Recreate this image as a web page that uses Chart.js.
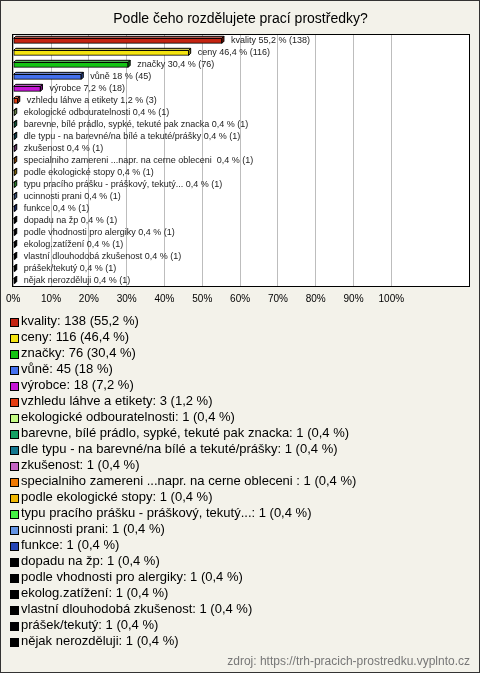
<!DOCTYPE html>
<html>
<head>
<meta charset="utf-8">
<script src="https://cdn.jsdelivr.net/npm/chart.js@4/dist/chart.umd.min.js"></script>
<style>
html,body{margin:0;padding:0;background:#f3f2ea;}
#wrap{position:absolute;left:0;top:0;width:480px;height:673px;}
</style>
</head>
<body>
<div id="wrap"><canvas id="c" width="480" height="673"></canvas></div>
<script>
const title = "Podle čeho rozdělujete prací prostředky?";
const categories = [
  "kvality", "ceny", "značky", "vůně", "výrobce", "vzhledu láhve a etikety",
  "ekologické odbouratelnosti", "barevne, bílé prádlo, sypké, tekuté pak znacka",
  "dle typu - na barevné/na bílé a tekuté/prášky", "zkušenost",
  "specialniho zamereni ...napr. na cerne obleceni ", "podle ekologické stopy",
  "typu pracího prášku - práškový, tekutý...", "ucinnosti prani", "funkce",
  "dopadu na žp", "podle vhodnosti pro alergiky", "ekolog.zatížení",
  "vlastní dlouhodobá zkušenost", "prášek/tekutý", "nějak nerozděluji"
];
const counts   = [138, 116, 76, 45, 18, 3, 1, 1, 1, 1, 1, 1, 1, 1, 1, 1, 1, 1, 1, 1, 1];
const percents = [55.2, 46.4, 30.4, 18, 7.2, 1.2, 0.4, 0.4, 0.4, 0.4, 0.4, 0.4, 0.4, 0.4, 0.4, 0.4, 0.4, 0.4, 0.4, 0.4, 0.4];
const colors = [
  "#c42412", "#f4e411", "#14c414", "#4470ee", "#c414d4", "#e43e12",
  "#c4fc84", "#14a064", "#147890", "#c464c4", "#f07a04", "#f0b804",
  "#44f044", "#6494e4", "#2444b4", "#000000", "#000000", "#000000",
  "#000000", "#000000", "#000000"
];
const tickValues = [0, 10, 20, 30, 40, 50, 60, 70, 80, 90, 100];
const source = "zdroj: https://trh-pracich-prostredku.vyplnto.cz";

const FONT = "'Liberation Sans', Arial, sans-serif";
function fmt(v){ return String(v).replace('.', ','); }

function shade(hex, f){
  const n = parseInt(hex.slice(1), 16);
  let r = (n >> 16) & 255, g = (n >> 8) & 255, b = n & 255;
  if (f > 0){ r = r + (255 - r) * f; g = g + (255 - g) * f; b = b + (255 - b) * f; }
  else { r = r * (1 + f); g = g * (1 + f); b = b * (1 + f); }
  return 'rgb(' + Math.round(r) + ',' + Math.round(g) + ',' + Math.round(b) + ')';
}

const bgPlugin = {
  id: 'bg',
  beforeDraw(chart){
    const ctx = chart.ctx, a = chart.chartArea;
    ctx.save();
    ctx.fillStyle = '#f3f2ea';
    ctx.fillRect(0, 0, chart.width, chart.height);
    ctx.fillStyle = '#ffffff';
    ctx.fillRect(a.left - 1, a.top, a.right - a.left + 1, a.bottom - a.top);
    ctx.restore();
  }
};

const bar3d = {
  id: 'bar3d',
  afterDatasetsDraw(chart){
    const ctx = chart.ctx, a = chart.chartArea;
    const meta = chart.getDatasetMeta(0);
    const d = 2;
    ctx.save();
    meta.data.forEach((el, i) => {
      const p = el.getProps(['x', 'y', 'base', 'height'], true);
      const top = p.y - p.height / 2, bot = p.y + p.height / 2;
      const c = colors[i];
      ctx.lineWidth = 1;
      ctx.strokeStyle = '#000';
      ctx.beginPath();
      ctx.moveTo(p.base, top);
      ctx.lineTo(p.base + d, top - d);
      ctx.lineTo(p.x + d, top - d);
      ctx.lineTo(p.x, top);
      ctx.closePath();
      ctx.fillStyle = shade(c, 0.35);
      ctx.fill(); ctx.stroke();
      ctx.beginPath();
      ctx.moveTo(p.x, top);
      ctx.lineTo(p.x + d, top - d);
      ctx.lineTo(p.x + d, bot - d);
      ctx.lineTo(p.x, bot);
      ctx.closePath();
      ctx.fillStyle = shade(c, -0.35);
      ctx.fill(); ctx.stroke();
      ctx.fillStyle = '#222';
      ctx.font = '9px ' + FONT;
      ctx.textAlign = 'left';
      ctx.textBaseline = 'middle';
      ctx.fillText(categories[i] + ' ' + fmt(percents[i]) + ' % (' + counts[i] + ')', p.x + d + 7, p.y);
    });
    ctx.strokeStyle = '#000';
    ctx.lineWidth = 1;
    ctx.strokeRect(Math.round(a.left) - 0.5, Math.round(a.top) - 0.5, Math.round(a.right - a.left), Math.round(a.bottom - a.top));
    ctx.restore();
  }
};

const legendPlugin = {
  id: 'legendList',
  afterDraw(chart){
    const ctx = chart.ctx;
    ctx.save();
    ctx.font = '13px ' + FONT;
    ctx.textAlign = 'left';
    ctx.textBaseline = 'middle';
    categories.forEach((name, i) => {
      const y = 321 + i * 16;
      const by = Math.round(y - 3.5);
      ctx.fillStyle = colors[i];
      ctx.fillRect(10, by, 9, 9);
      ctx.strokeStyle = '#000';
      ctx.lineWidth = 1;
      ctx.strokeRect(10.5, by + 0.5, 8, 8);
      ctx.fillStyle = '#000';
      ctx.fillText(name + ': ' + counts[i] + ' (' + fmt(percents[i]) + ' %)', 21, y);
    });
    ctx.font = '12px ' + FONT;
    ctx.fillStyle = '#777';
    ctx.textAlign = 'right';
    ctx.textBaseline = 'middle';
    ctx.fillText(source, 470, 662);
    ctx.strokeStyle = '#333';
    ctx.strokeRect(0.5, 0.5, chart.width - 1, chart.height - 1);
    ctx.restore();
  }
};

new Chart(document.getElementById('c'), {
  type: 'bar',
  data: {
    labels: categories,
    datasets: [{
      data: percents,
      backgroundColor: colors,
      borderColor: '#000',
      borderWidth: 1,
      borderSkipped: false,
      barThickness: 5
    }]
  },
  options: {
    indexAxis: 'y',
    responsive: false,
    animation: false,
    devicePixelRatio: 1,
    layout: { padding: { left: 11, right: 10, top: 0, bottom: 366 } },
    plugins: {
      legend: { display: false },
      tooltip: { enabled: false },
      title: {
        display: true,
        text: title,
        color: '#000',
        font: { family: FONT, size: 14, weight: 'normal' },
        padding: { top: 11, bottom: 7 }
      }
    },
    scales: {
      x: {
        type: 'linear',
        min: 0,
        max: 120.8,
        afterBuildTicks(scale){ scale.ticks = tickValues.map(v => ({ value: v })); },
        afterFit(scale){ scale.height = 20; },
        grid: { color: '#bdbdbd', drawTicks: false },
        border: { display: false },
        ticks: {
          color: '#000',
          font: { family: FONT, size: 10 },
          padding: 6,
          maxRotation: 0,
          autoSkip: false,
          callback: v => v + '%'
        }
      },
      y: { display: false }
    }
  },
  plugins: [bgPlugin, bar3d, legendPlugin]
});
</script>
</body>
</html>
